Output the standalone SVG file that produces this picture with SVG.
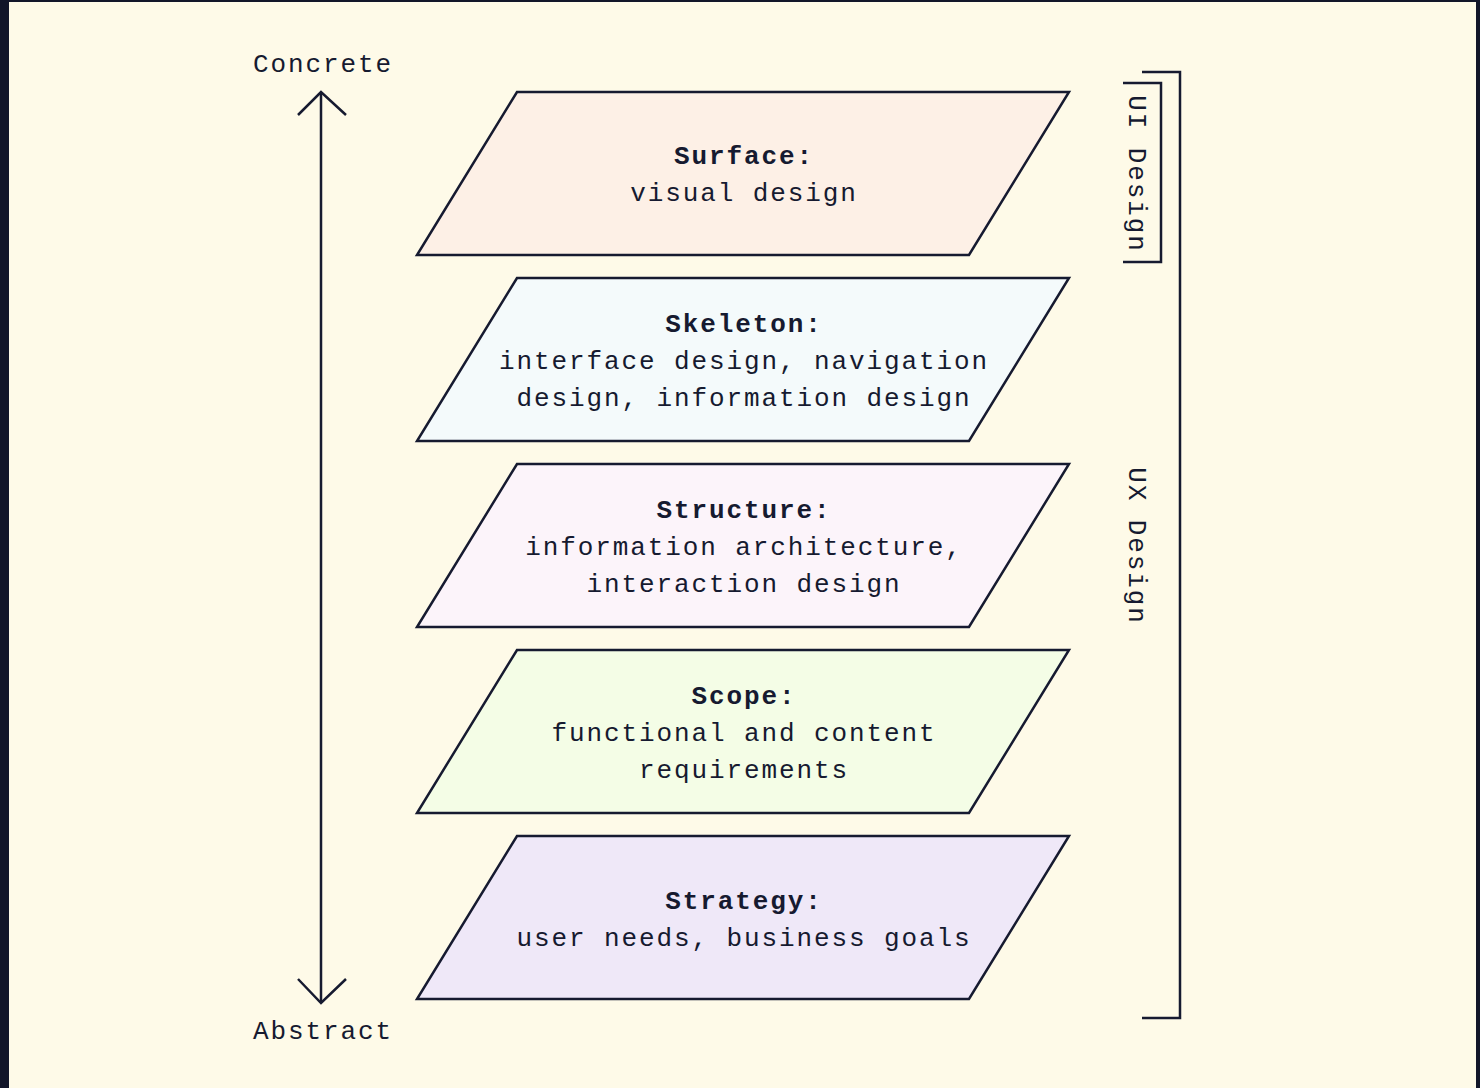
<svg xmlns="http://www.w3.org/2000/svg" width="1480" height="1088" viewBox="0 0 1480 1088">
<style>
.bg{fill:#fefae8}
.layer{stroke:#161a30;stroke-width:2.5;stroke-linejoin:miter}
.t{font-family:"Liberation Mono","DejaVu Sans Mono",monospace;font-size:26px;letter-spacing:1.9px;fill:#161a30;text-anchor:middle}
.b{font-weight:bold}
.ln{fill:none;stroke:#161a30;stroke-width:2.5}
</style>
<rect x="0" y="0" width="1480" height="1088" fill="#121629"/>
<rect class="bg" x="9" y="2" width="1467" height="1086"/>
<g id="surface">
<polygon class="layer" fill="#fdf0e6" points="517,92 1069,92 969,255 417,255"/>
<text class="t b" x="744" y="164">Surface:</text>
<text class="t" x="744" y="201">visual design</text>
</g>
<g id="skeleton">
<polygon class="layer" fill="#f4fafb" points="517,278 1069,278 969,441 417,441"/>
<text class="t b" x="744" y="332">Skeleton:</text>
<text class="t" x="744" y="369">interface design, navigation</text>
<text class="t" x="744" y="406">design, information design</text>
</g>
<g id="structure">
<polygon class="layer" fill="#fcf4fa" points="517,464 1069,464 969,627 417,627"/>
<text class="t b" x="744" y="518">Structure:</text>
<text class="t" x="744" y="555">information architecture,</text>
<text class="t" x="744" y="592">interaction design</text>
</g>
<g id="scope">
<polygon class="layer" fill="#f4fde6" points="517,650 1069,650 969,813 417,813"/>
<text class="t b" x="744" y="704">Scope:</text>
<text class="t" x="744" y="741">functional and content</text>
<text class="t" x="744" y="778">requirements</text>
</g>
<g id="strategy">
<polygon class="layer" fill="#efe8f8" points="517,836 1069,836 969,999 417,999"/>
<text class="t b" x="744" y="909">Strategy:</text>
<text class="t" x="744" y="946">user needs, business goals</text>
</g>
<g id="axis-labels">
<text class="t" x="323" y="72">Concrete</text>
<text class="t" x="323" y="1039">Abstract</text>
</g>
<g id="connectors">
<line class="ln" x1="321" y1="92" x2="321" y2="1003"/>
<polyline class="ln" points="298,115 321,92 346,115"/>
<polyline class="ln" points="298,979 321,1003 346,979"/>
<polyline class="ln" points="1123,83 1161,83 1161,262 1123,262"/>
<polyline class="ln" points="1142,72 1180,72 1180,1018 1142,1018"/>
</g>
<g id="ui-design">
<text class="t" transform="translate(1129,174) rotate(90)" x="0" y="0">UI Design</text>
</g>
<g id="ux-design">
<text class="t" transform="translate(1129,546) rotate(90)" x="0" y="0">UX Design</text>
</g>
</svg>
